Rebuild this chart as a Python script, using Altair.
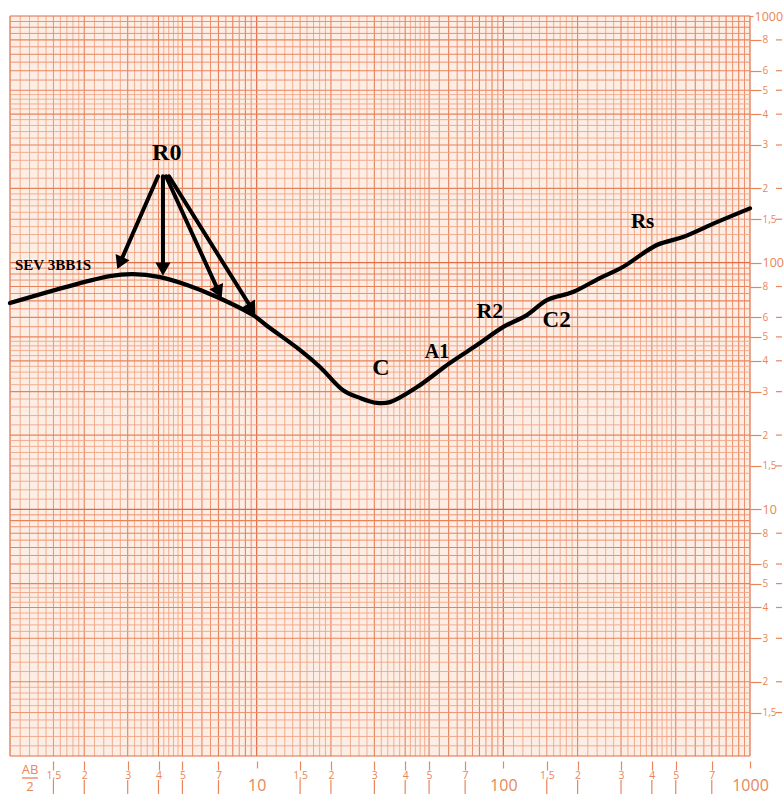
import altair as alt
import pandas as pd
import numpy as np

# ---- data ----
curve_x = [1.0, 2.54, 3.15, 4.06, 5.22, 6.90, 9.66, 11.0, 15.0, 18.1, 22.4, 26.2, 30.7, 34.7, 44.7,
           60.7, 80.4, 99.6, 124.6, 150.2, 191.4, 246, 305, 419, 535, 734, 1000]
curve_y = [68.6, 88.2, 89.9, 87.4, 81.2, 72.6, 61.3, 55.5, 44.2, 37.7, 30.4, 28.3, 27.0, 27.2, 31.3,
           39.2, 47.2, 54.8, 61.3, 70.5, 76.0, 86.6, 96.0, 117.9, 127, 146, 166]

label_text = ["R0", "C", "A1", "R2", "C2", "Rs"]
label_x = [4.32, 31.9, 53.8, 88.2, 164.4, 367]
label_y = [279, 37.4, 43.4, 63.8, 58.5, 145.6]
label_size = [24, 24, 20, 22, 23, 21]

sev_text = ["SEV 3BB1S"]
sev_x = [1.048]
sev_y = [97.8]

arrow_tail_x = [3.98, 4.17, 4.29, 4.41]
arrow_tail_y = [224, 224, 224, 224]
arrow_head_x = [2.79, 4.17, 7.03, 9.57]
arrow_head_y = [99.6, 94.2, 76.0, 64.9]

x_ticks = [1.5, 2, 3, 4, 5, 7, 10, 15, 20, 30, 40, 50, 70, 100, 150, 200, 300, 400, 500, 700, 1000]
x_tick_labels = ["1,5", "2", "3", "4", "5", "7", "10", "1,5", "2", "3", "4", "5", "7", "100",
                 "1,5", "2", "3", "4", "5", "7", "1000"]
y_ticks = [1.5, 2, 3, 4, 5, 6, 8, 10, 15, 20, 30, 40, 50, 60, 80, 100,
           150, 200, 300, 400, 500, 600, 800, 1000]
y_tick_labels = ["1,5", "2", "3", "4", "5", "6", "8", "10", "1,5", "2", "3", "4", "5", "6", "8", "100",
                 "1,5", "2", "3", "4", "5", "6", "8", "1000"]

# ---- styling ----
W, H = 740, 740
ORANGE = "#e8865a"
BG = "#fdeee5"
SERIF = "Liberation Serif"
SANS = "Open Sans"

# log-paper grid lines
def grid_values():
    rows = []
    for d in [1, 10, 100]:
        vals = list(np.arange(1, 2, 0.1)) + list(np.arange(2, 5, 0.2)) + list(np.arange(5, 10, 0.5))
        for v in vals:
            v = round(v, 3)
            if abs(v - 1) < 1e-9:
                cls = "dec"
            elif abs(v - round(v)) < 1e-9:
                cls = "int"
            elif abs(v * 2 - round(v * 2)) < 1e-9:
                cls = "half"
            else:
                cls = "thin"
            rows.append((v * d, cls))
    rows.append((1000, "dec"))
    order = {"thin": 0, "half": 1, "int": 2, "dec": 3}
    rows.sort(key=lambda r: order[r[1]])
    return pd.DataFrame(rows, columns=["v", "cls"])

grid = grid_values()
cls_dom = ["thin", "half", "int", "dec"]
cls_col = ["#f1a584", "#ec9270", "#e8825b", "#e06c44"]
cls_w = [0.9, 1.2, 1.6, 2.2]

def lab_expr(vals, labs):
    s = ""
    for v, l in zip(vals, labs):
        s += f"datum.value == {v} ? '{l}' : "
    return s + "''"

DEC = "datum.value == 10 || datum.value == 100 || datum.value == 1000"

XS = alt.Scale(type="log", domain=[1, 1000], nice=False)
YS = alt.Scale(type="log", domain=[1, 1000], nice=False)

X_AX = alt.Axis(values=x_ticks, labelExpr=lab_expr(x_ticks, x_tick_labels), grid=False, domain=False,
                title=None, orient="bottom", offset=5,
                tickColor=ORANGE, tickWidth=1.2,
                tickSize={"condition": {"test": DEC, "value": 7}, "value": 9},
                labelColor=ORANGE, labelFont=SANS,
                labelFontSize={"condition": {"test": DEC, "value": 16}, "value": 10.5},
                labelPadding={"condition": {"test": DEC, "value": 17}, "value": 5},
                labelBaseline="middle", labelAlign="center",
                labelFlush=False, labelOverlap=False)
Y_AX = alt.Axis(values=y_ticks, labelExpr=lab_expr(y_ticks, y_tick_labels), grid=False, domain=False,
                title=None, orient="right",
                tickColor=ORANGE, tickWidth=1.2,
                tickSize={"condition": {"test": "datum.value == 1000", "value": 3}, "value": 11},
                labelColor=ORANGE, labelFont=SANS,
                labelFontSize={"condition": {"test": DEC, "value": 12.5}, "value": 10},
                labelPadding=1, labelBaseline="middle", labelAlign="left",
                labelFlush=False, labelOverlap=False)

grid_color = alt.Color("cls:N", scale=alt.Scale(domain=cls_dom, range=cls_col), legend=None)
grid_width = alt.StrokeWidth("cls:N", scale=alt.Scale(domain=cls_dom, range=cls_w), legend=None)

vgrid = alt.Chart(grid).mark_rule().encode(
    x=alt.X("v:Q", scale=XS, axis=X_AX), color=grid_color, strokeWidth=grid_width)
hgrid = alt.Chart(grid).mark_rule().encode(
    y=alt.Y("v:Q", scale=YS, axis=Y_AX), color=grid_color, strokeWidth=grid_width)

# lower parts of bottom ticks and right-hand dashes
xt_df = pd.DataFrame({"v": [v for v, l in zip(x_ticks, x_tick_labels) if l not in ("10", "100", "1000")]})
yt_df = pd.DataFrame({"v": [v for v, l in zip(y_ticks, y_tick_labels) if l not in ("10", "100", "1000")]})
xlow = alt.Chart(xt_df).mark_rule(color=ORANGE, strokeWidth=1.2).encode(
    x=alt.X("v:Q", scale=XS, axis=X_AX), y=alt.value(H + 24), y2=alt.value(H + 38))
ydash = alt.Chart(yt_df).mark_rule(color=ORANGE, strokeWidth=1.2).encode(
    y=alt.Y("v:Q", scale=YS, axis=Y_AX), x=alt.value(W + 26), x2=alt.value(W + 32))

# AB/2 title
ab = alt.Chart(pd.DataFrame({"t": ["AB"]})).mark_text(
    color=ORANGE, font=SANS, fontSize=13, baseline="middle").encode(
    x=alt.value(20), y=alt.value(H + 14), text="t:N")
two = alt.Chart(pd.DataFrame({"t": ["2"]})).mark_text(
    color=ORANGE, font=SANS, fontSize=13, baseline="middle").encode(
    x=alt.value(20), y=alt.value(H + 31), text="t:N")
bar = alt.Chart(pd.DataFrame({"t": ["-"]})).mark_rule(color=ORANGE, strokeWidth=1.3).encode(
    x=alt.value(12), x2=alt.value(28), y=alt.value(H + 22))

# curve
cdf = pd.DataFrame({"x": curve_x, "y": curve_y})
curve = alt.Chart(cdf).mark_line(color="black", strokeWidth=4.2, interpolate="catmull-rom",
                                 strokeCap="round", strokeJoin="round").encode(
    x=alt.X("x:Q", scale=XS, axis=X_AX), y=alt.Y("y:Q", scale=YS, axis=Y_AX))

# arrows
adf = pd.DataFrame({"x": arrow_tail_x, "y": arrow_tail_y, "x2": arrow_head_x, "y2": arrow_head_y})
adf["ang"] = (np.degrees(np.arctan2(np.log10(adf["x2"]) - np.log10(adf["x"]),
                                    np.log10(adf["y2"]) - np.log10(adf["y"])))) % 360
shafts = alt.Chart(adf).mark_rule(color="black", strokeWidth=4, strokeCap="round").encode(
    x=alt.X("x:Q", scale=XS, axis=X_AX), y=alt.Y("y:Q", scale=YS, axis=Y_AX), x2="x2:Q", y2="y2:Q")
heads = alt.Chart(adf).mark_point(shape="triangle-up", filled=True, color="black", opacity=1,
                                  size=230, strokeWidth=0).encode(
    x=alt.X("x2:Q", scale=XS, axis=X_AX), y=alt.Y("y2:Q", scale=YS, axis=Y_AX),
    angle=alt.Angle("ang:Q", scale=None))

# labels
ldf = pd.DataFrame({"t": label_text, "x": label_x, "y": label_y, "s": label_size})
labels = alt.Chart(ldf).mark_text(font=SERIF, fontWeight="bold", color="black", baseline="middle").encode(
    x=alt.X("x:Q", scale=XS, axis=X_AX), y=alt.Y("y:Q", scale=YS, axis=Y_AX),
    text="t:N", size=alt.Size("s:Q", scale=None))
sdf = pd.DataFrame({"t": sev_text, "x": sev_x, "y": sev_y})
sev = alt.Chart(sdf).mark_text(font=SERIF, fontWeight="bold", color="black", fontSize=15,
                               align="left", baseline="middle").encode(
    x=alt.X("x:Q", scale=XS, axis=X_AX), y=alt.Y("y:Q", scale=YS, axis=Y_AX), text="t:N")

chart = alt.layer(vgrid, hgrid, xlow, ydash, ab, two, bar, curve, shafts, heads, labels, sev).properties(
    width=W, height=H,
    padding={"left": 10, "top": 16, "right": 34, "bottom": 38},
    autosize=alt.AutoSizeParams(type="none"),
    background="white",
).configure_view(stroke=None, fill=BG)

chart.save("out.html", embed_options={"renderer": "svg", "actions": False})
